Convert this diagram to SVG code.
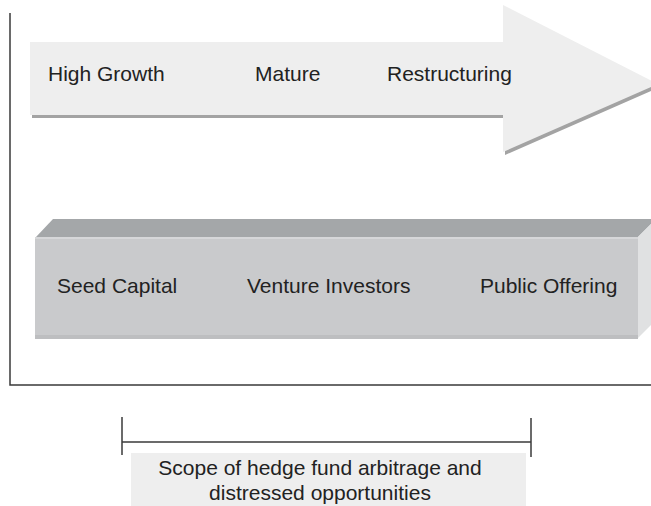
<svg xmlns="http://www.w3.org/2000/svg" width="651" height="506" viewBox="0 0 651 506">
<style>
.t{font-family:"Liberation Sans",Arial,sans-serif;font-size:21px;fill:#222}
.ln{stroke:#3a3a3a;stroke-width:1.5;fill:none}
</style>
<rect width="651" height="506" fill="#fff"/>
<g id="frame">
<polyline class="ln" points="10,13 10,385 651,385"/>
</g>
<g id="stages-arrow">
<polygon points="32,45 505,45 505,8 660,87 505,155 505,118 32,118" fill="#a3a3a3"/>
<polygon points="30,42 503,42 503,5 658,84 503,152 503,115 30,115" fill="#eeeeee"/>
<text class="t" x="48" y="81">High Growth</text>
<text class="t" x="255" y="81">Mature</text>
<text class="t" x="387" y="81">Restructuring</text>
</g>
<g id="funding-box">
<polygon points="36,237 53,219 656,219 638,237" fill="#a4a7a9"/>
<polygon points="638,237 656,219 656,320 638,338" fill="#e0e1e2"/>
<rect x="35" y="237" width="603" height="101" fill="#c9cacc"/>
<rect x="35" y="237" width="603" height="2" fill="#d6d7d9"/>
<rect x="35" y="335" width="603" height="4" fill="#bdbec0"/>
<text class="t" x="57" y="293">Seed Capital</text>
<text class="t" x="247" y="293">Venture Investors</text>
<text class="t" x="480" y="293">Public Offering</text>
</g>
<g id="connectors">
<line class="ln" x1="122" y1="442" x2="531" y2="442"/>
<line class="ln" x1="122" y1="417" x2="122" y2="455"/>
<line class="ln" x1="531" y1="418" x2="531" y2="457"/>
</g>
<g id="scope-label">
<rect x="131" y="453" width="395" height="53" fill="#eeeeee"/>
<text class="t" x="320" y="475" text-anchor="middle">Scope of hedge fund arbitrage and</text>
<text class="t" x="320" y="500" text-anchor="middle">distressed opportunities</text>
</g>
</svg>
